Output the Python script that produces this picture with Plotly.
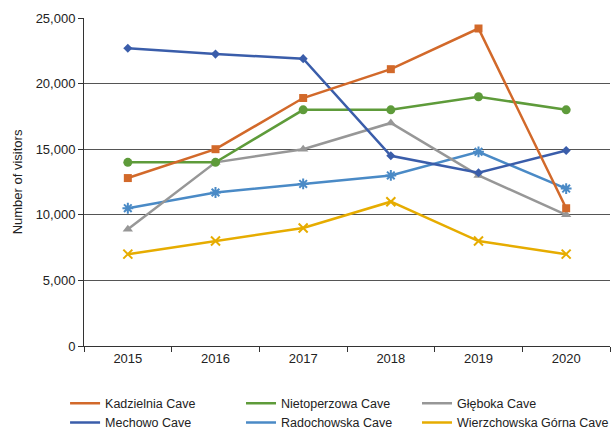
import plotly.graph_objects as go

years = ["2015", "2016", "2017", "2018", "2019", "2020"]
kadzielnia = [12800, 15000, 18900, 21100, 24200, 10500]
mechowo = [22700, 22250, 21900, 14500, 13200, 14900]
nietoperzowa = [14000, 14000, 18000, 18000, 19000, 18000]
gleboka = [8900, 14000, 15000, 17000, 13000, 10000]
radochowska = [10500, 11700, 12350, 13000, 14800, 12000]
wierzchowska = [7000, 8000, 9000, 11000, 8000, 7000]
y_ticks = [0, 5000, 10000, 15000, 20000, 25000]
y_tick_labels = ["0", "5,000", "10,000", "15,000", "20,000", "25,000"]

# name, values, colour, marker, size, marker line width, legend column
series = [
    ("Kadzielnia Cave", kadzielnia, "#D2692A", "square", 8, 0, "legend"),
    ("Mechowo Cave", mechowo, "#3A5DAA", "diamond", 7, 0, "legend"),
    ("Nietoperzowa Cave", nietoperzowa, "#5E9B3A", "circle", 9, 0, "legend2"),
    ("Radochowska Cave", radochowska, "#4A8AC6", "asterisk-open", 9, 2, "legend2"),
    ("Głęboka Cave", gleboka, "#979797", "triangle-up", 9, 0, "legend3"),
    ("Wierzchowska Górna Cave", wierzchowska, "#E6AC00", "x-thin-open", 9, 2, "legend3"),
]

fig = go.Figure()
draw_order = [3, 5, 4, 2, 1, 0]
for i in draw_order:
    name, vals, color, sym, size, lw, lg = series[i]
    fig.add_trace(go.Scatter(
        x=years, y=vals, mode="lines+markers", name=name, showlegend=False,
        line=dict(color=color, width=2.5),
        marker=dict(symbol=sym, size=size, color=color, line=dict(color=color, width=lw)),
    ))
for name, vals, color, sym, size, lw, lg in series:
    fig.add_trace(go.Scatter(
        x=[None], y=[None], mode="lines", name=name, legend=lg,
        line=dict(color=color, width=2.5),
    ))

leg_common = dict(orientation="v", xanchor="left", y=-0.13, yanchor="top",
                  traceorder="normal", font=dict(size=12.5, color="#222"),
                  itemwidth=30, tracegroupgap=0, bgcolor="rgba(0,0,0,0)")

fig.update_layout(
    width=615, height=430,
    margin=dict(l=84, r=5, t=18, b=84, autoexpand=False),
    paper_bgcolor="white", plot_bgcolor="white",
    font=dict(family="Liberation Sans, Arial, sans-serif", size=13, color="#222"),
    legend=dict(x=-0.036, **leg_common),
    legend2=dict(x=0.2985, **leg_common),
    legend3=dict(x=0.6331, **leg_common),
    xaxis=dict(
        type="category", tickson="boundaries", ticks="outside", ticklen=5,
        tickcolor="#333", showline=True, linecolor="#333", linewidth=1,
        showgrid=False, tickfont=dict(size=13, color="#222"),
        range=[-0.5, 5.5],
    ),
    yaxis=dict(
        range=[0, 25000], tickvals=y_ticks, ticktext=y_tick_labels,
        ticks="outside", ticklen=5, tickcolor="#333",
        showline=True, linecolor="#333", linewidth=1,
        showgrid=True, gridcolor="#555555", gridwidth=1, zeroline=False,
        title=dict(text="Number of visitors", font=dict(size=13, color="#222"), standoff=10),
        tickfont=dict(size=13, color="#222"),
    ),
)

fig.write_html("out.html", config={"displayModeBar": False},
               post_script="document.body.style.margin='0';")
